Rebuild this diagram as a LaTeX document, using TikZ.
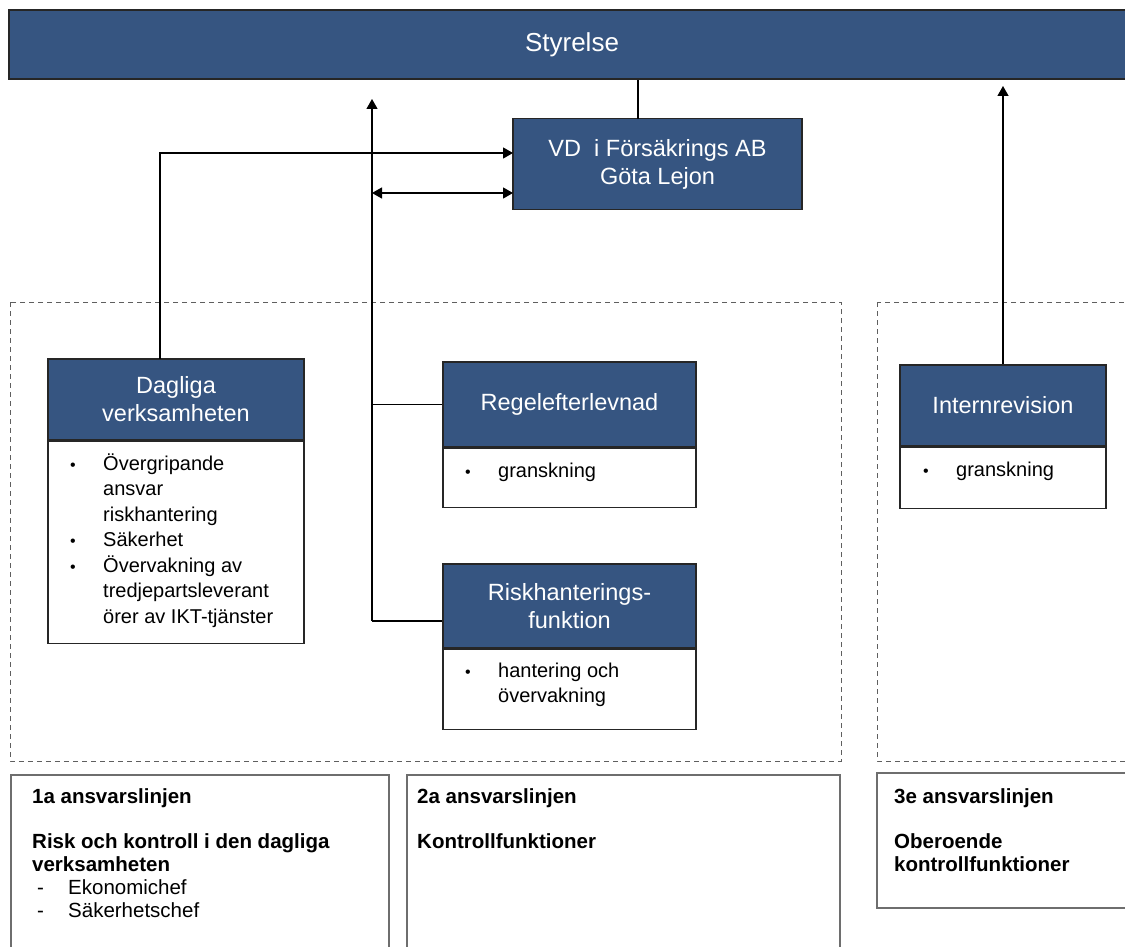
\documentclass[tikz,border=0pt]{standalone}
\usepackage{fontspec}
\setmainfont{Liberation Sans}
\usetikzlibrary{arrows.meta}

\definecolor{boxblue}{RGB}{54,85,129}
\definecolor{zonegray}{RGB}{95,95,95}
\definecolor{lanegray}{RGB}{110,110,110}

\newcommand{\rows}[1]{\begin{tabular}[t]{@{}l@{}}#1\end{tabular}}
\newcommand{\blist}[1]{\begin{tabular}[t]{@{}p{33pt}@{}l@{}}#1\end{tabular}}
\newcommand{\bul}{{\fontsize{16}{16}\selectfont\textbullet}}

\tikzset{
  head/.style={draw=black!85, line width=1.4pt, fill=boxblue, text=white,
    inner sep=0pt, align=center, font=\fontsize{23.5}{28}\selectfont},
  body/.style={draw=black!85, line width=1.4pt, fill=white, inner sep=0pt},
  lst/.style={anchor=base west, inner sep=0pt, font=\fontsize{20}{25.5}\selectfont},
  note/.style={anchor=base west, inner sep=0pt, font=\fontsize{20.5}{23}\selectfont},
  zone/.style={draw=zonegray, line width=1pt, dash pattern=on 5pt off 4pt},
  lane/.style={draw=lanegray, line width=1.2pt},
  link/.style={line width=1.3pt}
}

\begin{document}
\begin{tikzpicture}[x=1pt,y=-1pt,>={Stealth[inset=0pt,length=10pt,width=11pt]}]
        \clip (0,0) rectangle (1125,947);

        % board and VD
        \node[head,minimum width=1126pt,minimum height=69pt,font=\fontsize{26}{28}\selectfont] (sty) at (572,44.5) {Styrelse};
        \node[head,minimum width=289pt,minimum height=91pt] (vd) at (657.5,164) {VD\ \ i Försäkrings AB\\Göta Lejon};

        % dashed zones
        \draw[zone] (10,302) rectangle (841,761);
        \draw[zone] (877,302) rectangle (1140,761);

        % functions
        \node[head,minimum width=256pt,minimum height=81pt] (dag) at (176,399.5) {Dagliga\\verksamheten};
        \node[body,minimum width=256pt,minimum height=202pt,anchor=north] (dagbody) at (dag.south) {};
        \node[lst] (daglist) at (70,470) {\blist{\bul & Övergripande\\ & ansvar\\ & riskhantering\\ \bul & Säkerhet\\ \bul & Övervakning av\\ & tredjepartsleverant\\ & örer av IKT-tjänster}};

        \node[head,minimum width=253pt,minimum height=85pt] (regel) at (569.5,404.5) {Regelefterlevnad};
        \node[body,minimum width=253pt,minimum height=59pt,anchor=north] (regelbody) at (regel.south) {};
        \node[lst] (regellist) at (465,477) {\blist{\bul & granskning}};

        \node[head,minimum width=253pt,minimum height=84pt] (risk) at (569.5,606) {Riskhanterings-\\funktion};
        \node[body,minimum width=253pt,minimum height=80pt,anchor=north] (riskbody) at (risk.south) {};
        \node[lst] (risklist) at (465,677) {\blist{\bul & hantering och\\ & övervakning}};

        \node[head,minimum width=206pt,minimum height=81pt] (intern) at (1003,405.5) {Internrevision};
        \node[body,minimum width=206pt,minimum height=61pt,anchor=north] (internbody) at (intern.south) {};
        \node[lst] (internlist) at (923,476) {\blist{\bul & granskning}};

        % connectors
        \coordinate (vdtop) at (638,119);
        \coordinate (vdin) at (513,153);
        \coordinate (vdboth) at (513,193);
        \coordinate (dagup) at (160,359);
        \coordinate (spinetop) at (372,99);
        \coordinate (spinebot) at (372,621);
        \coordinate (revtop) at (1003,86);
        \draw[link] (vdtop) -- (vdtop |- sty.south);
        \draw[link,->] (dagup) |- (vdin);
        \draw[link,->] (spinebot) -- (spinetop);
        \draw[link,<->] (spinetop |- vdboth) -- (vdboth);
        \draw[link] (spinetop |- regel.west) -- (regel.west);
        \draw[link] (spinebot) -- (spinebot -| risk.west);
        \draw[link,->] (intern.north) -- (revtop);

        % lines of responsibility
        \draw[lane] (11,775) rectangle (389,960);
        \draw[lane] (407,775) rectangle (840,960);
        \draw[lane] (877,773) rectangle (1140,908);
        \node[note] (first) at (32,803) {\rows{\textbf{1a ansvarslinjen}\\[22pt]
          \textbf{Risk och kontroll i den dagliga}\\ \textbf{verksamheten}\\
          \hspace*{5pt}\makebox[31pt][l]{-}Ekonomichef\\ \hspace*{5pt}\makebox[31pt][l]{-}Säkerhetschef}};
        \node[note] (second) at (417,803) {\rows{\textbf{2a ansvarslinjen}\\[22pt] \textbf{Kontrollfunktioner}}};
        \node[note] (third) at (894,803) {\rows{\textbf{3e ansvarslinjen}\\[22pt] \textbf{Oberoende}\\ \textbf{kontrollfunktioner}}};
\end{tikzpicture}
\end{document}
